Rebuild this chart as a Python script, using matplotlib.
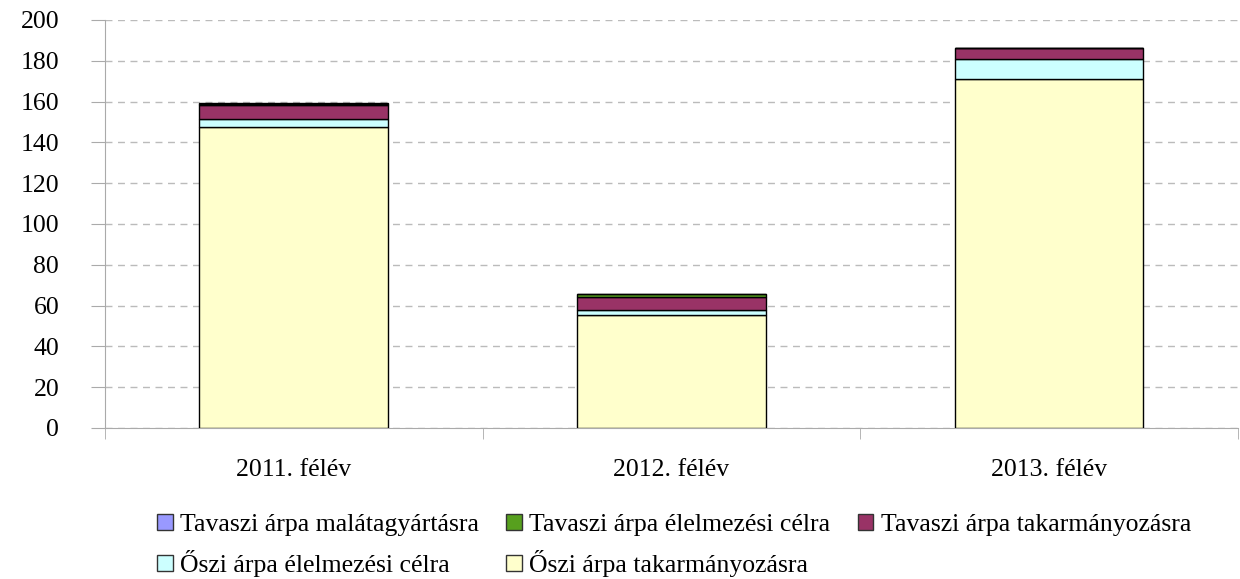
import matplotlib.pyplot as plt
import numpy as np

plt.rcParams['font.family'] = ['Liberation Serif', 'DejaVu Serif']

# Adatok
kategoriak = ["2011. félév", "2012. félév", "2013. félév"]
osz_takarmany = [147.4, 55.5, 171.0]
osz_elelmezes = [3.9, 2.3, 10.0]
tav_takarmany = [6.9, 6.6, 5.3]
tav_elelmezes = [0.6, 1.3, 0.0]
tav_malata = [0.3, 0.0, 0.0]

sorozatok = [
    ("Őszi árpa takarmányozásra", osz_takarmany, "#FFFFCC"),
    ("Őszi árpa élelmezési célra", osz_elelmezes, "#CCFFFF"),
    ("Tavaszi árpa takarmányozásra", tav_takarmany, "#993366"),
    ("Tavaszi árpa élelmezési célra", tav_elelmezes, "#57A01E"),
    ("Tavaszi árpa malátagyártásra", tav_malata, "#9999FF"),
]

fig = plt.figure(figsize=(12.4, 5.79), dpi=100)
ax = fig.add_axes([0.0847, 0.2608, 0.9135, 0.7047])

x = np.arange(len(kategoriak))
alap = np.zeros(len(kategoriak))
bars = {}
for nev, ertek, szin in sorozatok:
    ertek = np.array(ertek)
    bars[nev] = ax.bar(x, ertek, 0.5, bottom=alap, color=szin,
                       edgecolor="black", linewidth=1, label=nev, zorder=3)
    alap = alap + ertek

ax.set_xlim(-0.5, 2.5)
ax.set_ylim(0, 200)
ax.set_yticks(range(0, 201, 20))
ax.yaxis.grid(True, linestyle=(0, (5, 4)), color="#BBBBBB", linewidth=1)
ax.set_axisbelow(True)

for s in ["top", "right"]:
    ax.spines[s].set_visible(False)
ax.spines["left"].set_color("#AAAAAA")
ax.spines["bottom"].set_color("#AAAAAA")

ax.set_xticks(x)
ax.set_xticklabels(kategoriak)
ax.set_xticks([-0.5, 0.5, 1.5, 2.5], minor=True)
ax.tick_params(axis="x", which="major", length=0, pad=22, labelsize=18.5)
ax.tick_params(axis="x", which="minor", length=8, color="#AAAAAA")
ax.tick_params(axis="y", length=10, color="#AAAAAA", labelsize=18.5, pad=23)

sorrend = ["Tavaszi árpa malátagyártásra", "Őszi árpa élelmezési célra",
           "Tavaszi árpa élelmezési célra", "Őszi árpa takarmányozásra",
           "Tavaszi árpa takarmányozásra"]
leg = ax.legend([bars[n] for n in sorrend], sorrend, ncol=3,
                loc="upper left", bbox_to_anchor=(0.037, -0.185),
                frameon=False, fontsize=18.5, handlelength=0.6,
                handleheight=0.6, handletextpad=0.3, columnspacing=1.05,
                labelspacing=0.55, borderaxespad=0)
for h in leg.legend_handles:
    h.set_edgecolor("#333333")

fig.savefig("out.png", dpi=100)
